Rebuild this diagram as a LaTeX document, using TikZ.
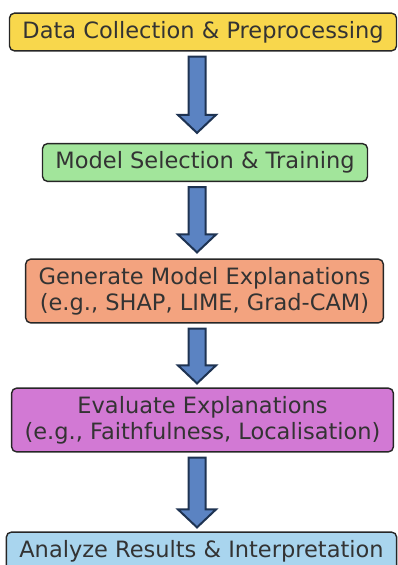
\documentclass[tikz,border=0pt]{standalone}
\usepackage{fontspec}
\setmainfont{DejaVu Sans}
\usetikzlibrary{calc}

\definecolor{boxline}{HTML}{262626}
\definecolor{textgray}{HTML}{333333}
\definecolor{stepyellow}{HTML}{F8D74C}
\definecolor{stepgreen}{HTML}{A2E59B}
\definecolor{stepsalmon}{HTML}{F3A37F}
\definecolor{steporchid}{HTML}{D279D4}
\definecolor{stepblue}{HTML}{A9D5EE}
\definecolor{arrowfill}{HTML}{5B83C2}
\definecolor{arrowline}{HTML}{1E3352}

\tikzset{
    stepbox/.style={draw=boxline, line width=1.4pt, rounded corners=5pt,
        text=textgray, align=center, inner xsep=13pt, inner ysep=8pt,
        font=\fontsize{22.5}{26}\selectfont},
    fatarrow/.style={fill=arrowfill, draw=arrowline, line width=2pt, line join=miter}
}

\begin{document}
\begin{tikzpicture}[x=1pt, y=1pt]
        \useasboundingbox (0, 0) rectangle (398, -565);
        
        % Steps
        \node[stepbox, fill=stepyellow] (data) at (203, -32) {Data Collection \& Preprocessing};
        \node[stepbox, fill=stepgreen] (model) at (205, -162.5) {Model Selection \& Training};
        \node[stepbox, fill=stepsalmon] (expl) at (204.5, -291) {Generate Model Explanations\\(e.g., SHAP, LIME, Grad-CAM)};
        \node[stepbox, fill=steporchid] (eval) at (202.5, -420) {Evaluate Explanations\\(e.g., Faithfulness, Localisation)};
        \node[stepbox, fill=stepblue] (result) at (201.5, -551) {Analyze Results \& Interpretation};
        
        % Arrows
        \foreach \a/\b/\g in {data/model/10, model/expl/6, expl/eval/4, eval/result/4} {
            \draw[fatarrow] let \p1 = ($(\a.south) + (0, -5)$), \p2 = ($(\b.north) + (0, \g)$) in
                (197 - 8.5, \y1) -- (197 + 8.5, \y1) -- (197 + 8.5, \y2 + 18) -- (197 + 19, \y2 + 18)
                -- (197, \y2) -- (197 - 19, \y2 + 18) -- (197 - 8.5, \y2 + 18) -- cycle;
        }
    \end{tikzpicture}
\end{document}
